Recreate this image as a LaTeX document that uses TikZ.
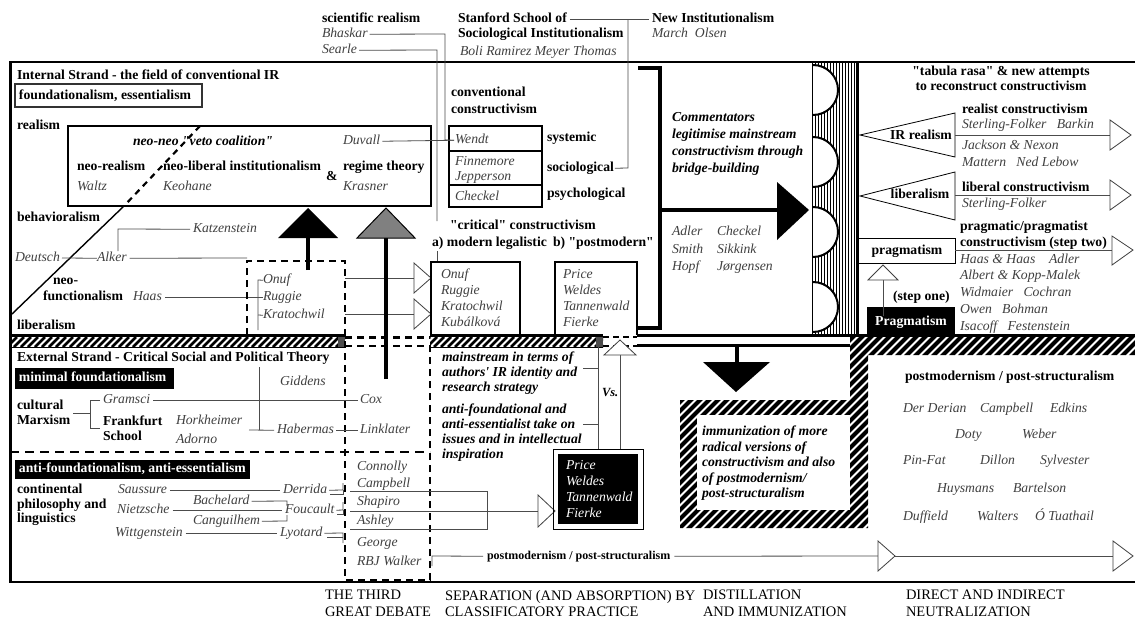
\documentclass[tikz,border=0pt]{standalone}
\usepackage{fontspec}
\setmainfont{Liberation Serif}[Ligatures=TeXOff]
\newcommand\hatchrect[6]{%
  \begin{scope}
    \clip (#1,#2) rectangle (#3,#4);
    \pgfmathsetmacro\hH{#4-#2}%
    \pgfmathsetmacro\hA{#1-\hH-#5}%
    \pgfmathsetmacro\hB{\hA+#5}%
    \foreach \xx in {\hA,\hB,...,#3}{%
      \draw[line width=#6] (\xx,#4) -- ++(\hH,-\hH);
    }
  \end{scope}}
\begin{document}
\begin{tikzpicture}[x=1pt,y=-1pt,
  every node/.style={inner sep=0pt,outer sep=0pt},
  fB/.style={font=\fontsize{13.7}{16}\selectfont\bfseries},
  fI/.style={font=\fontsize{13.7}{16}\selectfont\itshape,text=black!75},
  fBI/.style={font=\fontsize{13.7}{16}\selectfont\bfseries\itshape},
  fR/.style={font=\fontsize{14.5}{16.5}\selectfont},
  lt/.style={anchor=base west,yshift=-3.5pt,text height=9.5pt,text depth=3pt},
  ct/.style={anchor=base,yshift=-3.5pt},
  ml/.style={anchor=north west,yshift=6pt,align=left},
  tb/.style={lt,fB}, ti/.style={lt,fI}, tbi/.style={lt,fBI},
  conn/.style={draw=black!70,line width=0.8pt},
  thickbox/.style={draw,line width=2.4pt},
  bigdash/.style={draw,line width=2.8pt,dash pattern=on 7pt off 5pt},
  opentip/.style={draw=black!75,fill=white,line width=0.8pt,line join=miter}]
\useasboundingbox (0,0) rectangle (1135,621);
\fill[white] (0,0) rectangle (1135,621);

% ---------- hatched bands ----------
\hatchrect{10}{337}{345}{347}{7}{2.6pt}
\hatchrect{430}{337}{603}{347}{7}{2.6pt}
\fill[black!70] (338,337) rectangle (345,347);
\fill[black!70] (596,337) rectangle (603,347);
\draw[line width=0.6pt] (10,347) -- (345,347) (430,347) -- (603,347);
\begin{scope}
  \clip (680,400) rectangle (868,528) (850,337) rectangle (1135,355) (850,337) rectangle (868,401);
  \foreach \xx in {480,489,...,1140} \draw[line width=4.2pt] (\xx,530) -- ++(195,-195);
\end{scope}
\fill[white] (697,415) rectangle (850,510);

% ---------- frame ----------
\draw[line width=1.6pt] (10,62) -- (1135,62);
\draw[line width=1.6pt] (10,582) -- (1135,582);
\draw[line width=3pt] (10,61) -- (10,583);
\draw[line width=3pt] (10,335) -- (345,335) (430,335) -- (603,335) (637,335) -- (1135,335);
\draw[line width=3pt] (637,345.5) -- (850,345.5);
\draw[line width=2.8pt,dash pattern=on 6pt off 4pt] (603,337) -- (637,337) (603,346) -- (637,346);

% ---------- top ----------
\node[tb] (scire) at (322,19) {scientific realism};
\node[ti] (bhaskar) at (322,34) {Bhaskar};
\node[ti] (searle) at (322,50) {Searle};
\node[tb] (stan1) at (458,19) {Stanford School of};
\node[tb] (stan2) at (458,34) {Sociological Institutionalism};
\node[ti] (stan3) at (460,52) {Boli Ramirez Meyer Thomas};
\node[tb] (newi) at (652,19) {New Institutionalism};
\node[ti] (march) at (652,34) {March\ \ Olsen};

% ---------- internal strand ----------
\node[tb] (intstr) at (17,76) {Internal Strand - the field of conventional IR};
\draw[line width=1.2pt,draw=black!80] (15,84) rectangle (202,107);
\node[tb] (found) at (19,96) {foundationalism, essentialism};
\node[tb] (realism) at (17,126) {realism};
\draw[thickbox] (68,126) rectangle (431,206);
\draw[line width=2.2pt,dash pattern=on 6pt off 5pt] (200,126) -- (124,206);
\node[tbi] (veto) at (133,142) {neo-neo "veto coalition"};
\node[ti] (duvall) at (343,141) {Duvall};
\node[tb] (neoreal) at (77,167) {neo-realism};
\node[ti] (waltz) at (77,187) {Waltz};
\node[tb] (neolib) at (163,167) {neo-liberal institutionalism};
\node[ti] (keohane) at (163,187) {Keohane};
\node[tb] (amp) at (326,177) {\&};
\node[tb] (regime) at (343,167) {regime theory};
\node[ti] (krasner) at (343,187) {Krasner};
\node[tb] (behav) at (17,218) {behavioralism};
\draw[line width=1.4pt] (124,206) -- (12,314);
\node[ti] (katz) at (193,229) {Katzenstein};
\node[ti] (deutsch) at (15,258) {Deutsch};
\node[ti] (alker) at (97,258) {Alker};
\draw[conn] (62,258) -- (alker.west);
\draw[conn] ([xshift=-3pt]katz.west) -- (118,229) -- (118,251);
\draw[conn] ([xshift=3pt]alker.east) -- (247,258);
\node[tb] (neo) at (53,281) {neo-};
\node[tb] (functionalism) at (43,297) {functionalism};
\node[ti] (haas) at (133,297) {Haas};
\node[ti] (onuf1) at (263,280) {Onuf};
\node[ti] (ruggie1) at (263,297) {Ruggie};
\node[ti] (krat1) at (263,315) {Kratochwil};
\draw[conn] ([xshift=3pt]haas.east) -- (ruggie1.west);
\draw[conn] (onuf1.west) -- (258,280) -- (258,330);
\draw[conn] (258,315) -- (krat1.west);
\node[tb] (liberalism) at (17,326) {liberalism};

% dashed boxes
\draw[bigdash] (247,335) -- (247,261) -- (345,261) -- (345,580) -- (430,580) -- (430,341);
\draw[bigdash] (345,337.5) -- (430,337.5) (345,346) -- (430,346);
\draw[line width=1.6pt,dash pattern=on 9pt off 6pt] (10,452) -- (430,452);

% arrows to Onuf box
\draw[conn] (345,278) -- (414,278);
\draw[opentip] (414,263) -- (431,278) -- (414,293) -- cycle;
\draw[conn] (345,314) -- (414,314);
\draw[opentip] (414,299) -- (431,314) -- (414,329) -- cycle;

% big up arrows
\draw[line width=4pt] (308,270) -- (308,236);
\fill (278,238) -- (338,238) -- (308,208) -- cycle;
\draw[line width=4pt] (386,379) -- (386,236);
\filldraw[fill=black!50,draw=black,line width=1pt] (357,238) -- (415,238) -- (386,208) -- cycle;

% conventional constructivism
\node[tb] (conv1) at (451,93) {conventional};
\node[tb] (conv2) at (451,110) {constructivism};
\draw[thickbox] (449,126) rectangle (542,207);
\draw[line width=2pt] (449,151) -- (542,151) (449,185) -- (542,185);
\node[ti] (wendt) at (455,140) {Wendt};
\node[ti] (finn) at (455,162) {Finnemore};
\node[ti] (jepp) at (455,177) {Jepperson};
\node[ti] (checkel1) at (455,197) {Checkel};
\node[tb] (systemic) at (547,138) {systemic};
\node[tb] (sociological) at (547,168) {sociological};
\node[tb] (psych) at (547,194) {psychological};
\draw[conn] ([xshift=2pt]bhaskar.east) -- (445,34) -- (445,140) -- ([xshift=-1pt]wendt.west);
\draw[conn] ([xshift=2pt]duvall.east) -- ([xshift=-1pt]wendt.west);
\draw[conn] ([xshift=2pt]searle.east) -- (437,50) -- (437,221);
\draw[conn] (437,251) -- (437,262);
\draw[conn] ([xshift=3pt]stan1.east) -- ([xshift=-3pt]newi.west);
\draw[conn] (628,19) -- (628,168) -- ([xshift=1pt]sociological.east);

% critical constructivism
\node[tb] (crit) at (450,226) {"critical" constructivism};
\node[tb] (moda) at (432,243) {a) modern legalistic};
\node[tb] (modb) at (553,243) {b) "postmodern"};
\draw[thickbox] (431,335) -- (431,262) -- (520,262) -- (520,335);
\node[fI,ml] (onufbox) at (441,275) {Onuf\\Ruggie\\Kratochwil\\Kubálková};
\draw[thickbox] (555,335) -- (555,262) -- (637,262) -- (637,335);
\node[fI,ml] (pricebox) at (563,275) {Price\\Weldes\\Tannenwald\\Fierke};

% commentators bracket
\draw[line width=4pt] (638,68) -- (660,68) -- (660,328) -- (638,328);
\draw[line width=4pt] (660,210) -- (780,210);
\fill (777,182) -- (809,210) -- (777,240) -- cycle;
\node[fBI,ml,font=\fontsize{13.7}{17}\selectfont\bfseries\itshape] (comm) at (672,118) {Commentators\\legitimise mainstream\\constructivism through\\bridge-building};
\node[fI,ml,font=\fontsize{13.7}{17.5}\selectfont\itshape] (adler) at (672,232) {Adler\\Smith\\Hopf};
\node[fI,ml,font=\fontsize{13.7}{17.5}\selectfont\itshape] (checkel2) at (717,232) {Checkel\\Sikkink\\Jørgensen};

% wall
\foreach \xx in {812,815,...,854} \draw[line width=0.7pt] (\xx,62) -- (\xx,335);
\foreach \cy in {90,162,232,307}{
  \begin{scope}
    \clip (813,40) rectangle (880,360);
    \draw[fill=white,line width=2pt] (813,\cy) circle[radius=25];
  \end{scope}}
\draw[line width=3pt] (857,62) -- (857,336);

% right panel
\node[fB,align=center,anchor=north,font=\fontsize{13.7}{14.5}\selectfont\bfseries] (tabula) at (1001,66) {"tabula rasa" \& new attempts\\to reconstruct constructivism};
\draw[line width=0.8pt] (860,135) -- (955,113) -- (955,157) -- cycle;
\node[fB,ct] (irreal) at (921,136) {IR realism};
\draw[conn] (955,135) -- (1110,135);
\draw[opentip] (1110,120) -- (1131,135) -- (1110,150) -- cycle;
\draw[line width=0.8pt] (860,196) -- (955,172) -- (955,220) -- cycle;
\node[fB,ct] (libism) at (920,195) {liberalism};
\draw[conn] (955,195) -- (1110,195);
\draw[opentip] (1110,180) -- (1131,195) -- (1110,210) -- cycle;
\draw[line width=0.8pt] (857,238) -- (955,238) -- (955,263) -- (857,263);
\node[fB,ct] (pragism) at (907,251) {pragmatism};
\draw[conn] (955,250) -- (1112,250);
\draw[opentip] (1112,236) -- (1133,250) -- (1112,265) -- cycle;
\node[tb] (realcon) at (962,110) {realist constructivism};
\node[ti] (sf1) at (962,125) {Sterling-Folker\ \ \ Barkin};
\node[ti] (jn) at (962,146) {Jackson \& Nexon};
\node[ti] (mnl) at (962,163) {Mattern\ \ \ Ned Lebow};
\node[tb] (libcon) at (962,188) {liberal constructivism};
\node[ti] (sf2) at (962,204) {Sterling-Folker};
\node[tb] (pc1) at (960,227) {pragmatic/pragmatist};
\node[tb] (pc2) at (960,243) {constructivism (step two)};
\node[ti] (hh) at (960,260) {Haas \& Haas\ \ \ \ Adler};
\node[ti] (akm) at (960,276) {Albert \& Kopp-Malek};
\node[ti] (wc) at (960,293) {Widmaier\ \ \ Cochran};
\node[ti] (ob) at (960,310) {Owen\ \ \ Bohman};
\node[ti] (ifs) at (960,327) {Isacoff\ \ \ Festenstein};
\fill (867,307) rectangle (955,336);
\node[fB,ct,text=white] (pragbox) at (911,322) {Pragmatism};
\draw[conn] (883,280) -- (pragbox.north -| 883,0);
\draw[opentip] (868,280) -- (898,280) -- (883,265) -- cycle;
\node[tb] (stepone) at (893,297) {(step one)};

% external strand
\node[tb] (extstr) at (17,358) {External Strand - Critical Social and Political Theory};
\fill (15,368) rectangle (174,389);
\node[tb,text=white] (minf) at (19,378) {minimal foundationalism};
\node[ti] (giddens) at (280,382) {Giddens};
\node[tb] (cultural) at (17,406) {cultural};
\node[tb] (marxism) at (17,421) {Marxism};
\node[ti] (gramsci) at (103,400) {Gramsci};
\node[tb] (frank) at (103,422) {Frankfurt};
\node[tb] (school) at (103,437) {School};
\node[ti] (hork) at (176,421) {Horkheimer};
\node[ti] (adorno) at (176,440) {Adorno};
\node[ti] (habermas) at (277,430) {Habermas};
\node[ti] (cox) at (360,400) {Cox};
\node[ti] (linklater) at (360,430) {Linklater};
\draw[conn] (73,413) -- (90,413);
\draw[conn] (100,400) -- (90,400) -- (90,428) -- (100,428);
\draw[conn] ([xshift=3pt]gramsci.east) -- ([xshift=-2pt]cox.west);
\draw[conn] (249,430) -- ([xshift=-3pt]habermas.west);
\draw[conn] (259,367) -- (259,430);
\draw[conn] ([xshift=2pt]habermas.east) -- ([xshift=-2pt]linklater.west);

\fill (15,460) rectangle (250,479);
\node[tb,text=white] (antifb) at (19,469) {anti-foundationalism, anti-essentialism};
\node[fB,ml,font=\fontsize{13.7}{14.5}\selectfont\bfseries] (contin) at (17,490) {continental\\philosophy and\\linguistics};
\node[ti] (saussure) at (118,490) {Saussure};
\node[ti] (derrida) at (283,490) {Derrida};
\node[ti] (bachelard) at (193,501) {Bachelard};
\node[ti] (nietzsche) at (117,510) {Nietzsche};
\node[ti] (foucault) at (285,510) {Foucault};
\node[ti] (cang) at (193,521) {Canguilhem};
\node[ti] (witt) at (115,533) {Wittgenstein};
\node[ti] (lyotard) at (280,533) {Lyotard};
\draw[conn] ([xshift=3pt]saussure.east) -- ([xshift=-3pt]derrida.west);
\draw[conn] ([xshift=3pt]nietzsche.east) -- ([xshift=-3pt]foucault.west);
\draw[conn] ([xshift=3pt]witt.east) -- ([xshift=-3pt]lyotard.west);
\draw[conn] ([xshift=2pt]bachelard.east) -- (287,501) -- (287,506);
\draw[conn] ([xshift=2pt]cang.east) -- (287,521) -- (287,515);
\draw[conn] ([xshift=2pt]derrida.east) -- (343,490) -- (343,483);
\draw[conn] (330,494) -- (343,494) -- (343,490);
\draw[conn] ([xshift=2pt]foucault.east) -- (343,510) -- (343,502);
\draw[conn] (337,514) -- (343,514) -- (343,510);
\draw[conn] ([xshift=2pt]lyotard.east) -- (343,533) -- (343,543);
\draw[conn] (327,537) -- (343,537);
\node[ti] (connolly) at (357,467) {Connolly};
\node[ti] (campbell1) at (357,484) {Campbell};
\node[ti] (shapiro) at (357,502) {Shapiro};
\node[ti] (ashley) at (357,521) {Ashley};
\node[ti] (george) at (357,543) {George};
\node[ti] (rbj) at (357,562) {RBJ Walker};
\draw[conn] (350,491) -- (487,491) -- (487,529) -- (350,529);
\draw[conn] (350,511) -- (538,511);
\draw[opentip] (538,495) -- (555,511) -- (538,527) -- cycle;

% middle lower
\node[fBI,ml,font=\fontsize{13.7}{15}\selectfont\bfseries\itshape] (mainstr) at (442,358) {mainstream in terms of\\authors' IR identity and\\research strategy};
\node[fBI,ml,font=\fontsize{13.7}{14.8}\selectfont\bfseries\itshape] (antif) at (442,410) {anti-foundational and\\anti-essentialist take on\\issues and in intellectual\\inspiration};
\draw[conn] (598,347) -- (598,449);
\draw[conn] (583,368) -- (598,368);
\draw[conn] (583,424) -- (598,424);
\draw[conn] (620,355) -- (620,449);
\draw[opentip] (604,355) -- (636,355) -- (620,340) -- cycle;
\node[tbi,font=\fontsize{12.5}{14}\selectfont\bfseries\itshape] (vs) at (602,393) {Vs.};
\draw[line width=1pt] (553,449) rectangle (643,529);
\fill (558,454) rectangle (638,524);
\node[fI,ml,text=white] (pricew) at (566,466) {Price\\Weldes\\Tannenwald\\Fierke};

% down arrow
\draw[line width=4pt] (737,345) -- (737,364);
\fill (703,362) -- (770,362) -- (736,392) -- cycle;
\node[fBI,ml,font=\fontsize{13.7}{15.5}\selectfont\bfseries\itshape] (immun) at (702,432) {immunization of more\\radical versions of\\constructivism and also\\of postmodernism/\\post-structuralism};

% bottom line postmodernism
\node[tb,font=\fontsize{12}{14}\selectfont\bfseries] (pmbot) at (487,556) {postmodernism / post-structuralism};
\draw[conn] (432,566) -- (432,556) -- ([xshift=-4pt]pmbot.west);
\draw[conn] ([xshift=4pt]pmbot.east) -- (878,556);
\draw[opentip] (878,541) -- (895,556) -- (878,571) -- cycle;
\draw[conn] (895,556) -- (1113,556);
\draw[opentip] (1113,541) -- (1133,556) -- (1113,571) -- cycle;

% right lower
\node[tb] (pmright) at (905,377) {postmodernism / post-structuralism};
\node[ti] (dd) at (903,409) {Der Derian};
\node[ti] (campbell2) at (980,409) {Campbell};
\node[ti] (edkins) at (1050,409) {Edkins};
\node[ti] (doty) at (955,435) {Doty};
\node[ti] (weber) at (1022,435) {Weber};
\node[ti] (pinfat) at (903,461) {Pin-Fat};
\node[ti] (dillon) at (980,461) {Dillon};
\node[ti] (sylv) at (1040,461) {Sylvester};
\node[ti] (huys) at (937,489) {Huysmans};
\node[ti] (bart) at (1013,489) {Bartelson};
\node[ti] (duff) at (903,517) {Duffield};
\node[ti] (walters) at (977,517) {Walters};
\node[ti] (otuat) at (1035,517) {Ó Tuathail};

% bottom labels
\node[fR,ml] (third) at (325,596) {THE THIRD\\GREAT DEBATE};
\node[fR,ml] (sep) at (445,596) {SEPARATION (AND ABSORPTION) BY\\CLASSIFICATORY PRACTICE};
\node[fR,ml] (dist) at (703,596) {DISTILLATION\\AND IMMUNIZATION};
\node[fR,ml] (direct) at (906,596) {DIRECT AND INDIRECT\\NEUTRALIZATION};
\end{tikzpicture}
\end{document}
